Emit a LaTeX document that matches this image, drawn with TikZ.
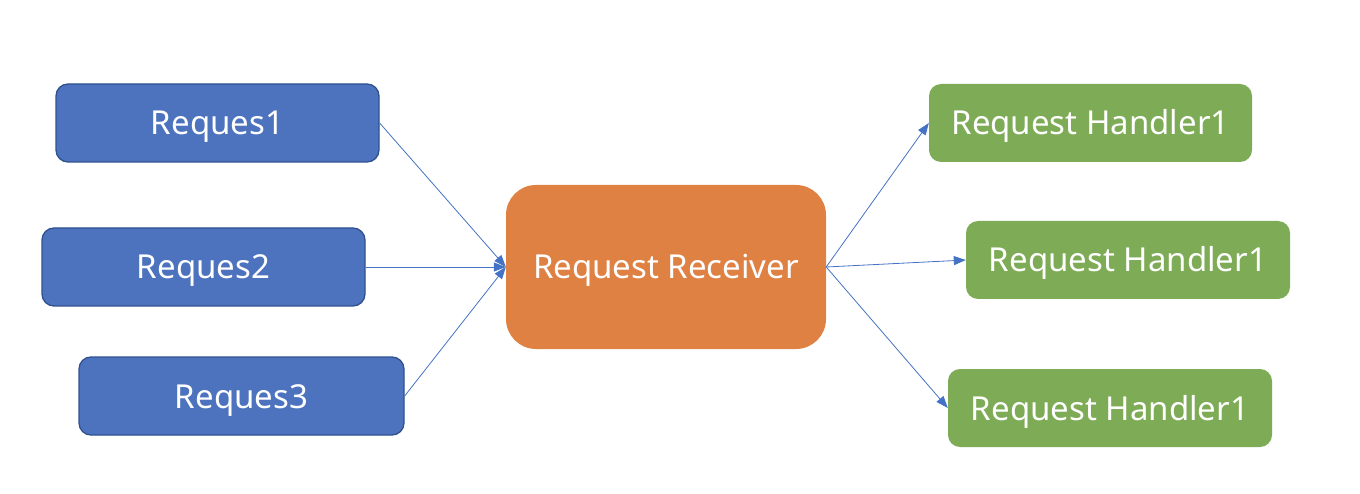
\documentclass[tikz,border=0pt]{standalone}
\usepackage{fontspec}
\setmainfont{Noto Sans}
\usetikzlibrary{arrows.meta}
\definecolor{bfill}{HTML}{4D73BE}
\definecolor{bdraw}{HTML}{2F528F}
\definecolor{ofill}{HTML}{DF8143}
\definecolor{gfill}{HTML}{7EAB55}
\definecolor{arr}{HTML}{4472C4}
\begin{document}
\begin{tikzpicture}[x=1pt,y=-1pt,
  txt/.style={text=white,font=\fontsize{33}{36}\selectfont,text height=24pt,text depth=0pt},
  reqbox/.style={txt,draw=bdraw,line width=1.3pt,fill=bfill,rounded corners=12pt},
  recvbox/.style={txt,fill=ofill,rounded corners=30pt},
  handbox/.style={txt,fill=gfill,rounded corners=12pt},
  conn/.style={draw=arr,line width=0.8pt,-{Triangle[length=12pt,width=9pt]}}]
\useasboundingbox (0,0) rectangle (1360,494);
\node[reqbox,minimum width=323pt,minimum height=78pt] (r1) at (217.5,123) {Reques1};
\node[reqbox,minimum width=323pt,minimum height=78pt] (r2) at (203.5,267) {Reques2};
\node[reqbox,minimum width=325pt,minimum height=78pt] (r3) at (241.5,396) {Reques3};
\node[recvbox,minimum width=320pt,minimum height=164pt] (rc) at (666,267) {Request Receiver};
\node[handbox,minimum width=323pt,minimum height=78pt] (h1) at (1090.5,123) {Request Handler1};
\node[handbox,minimum width=324pt,minimum height=78pt] (h2) at (1128,260) {Request Handler1};
\node[handbox,minimum width=324pt,minimum height=78pt] (h3) at (1110,408) {Request Handler1};
\draw[conn] (r1.east) -- (rc.west);
\draw[conn] (r2.east) -- (rc.west);
\draw[conn] (r3.east) -- (rc.west);
\draw[conn] (rc.east) -- (h1.west);
\draw[conn] (rc.east) -- (h2.west);
\draw[conn] (rc.east) -- (h3.west);
\end{tikzpicture}
\end{document}
